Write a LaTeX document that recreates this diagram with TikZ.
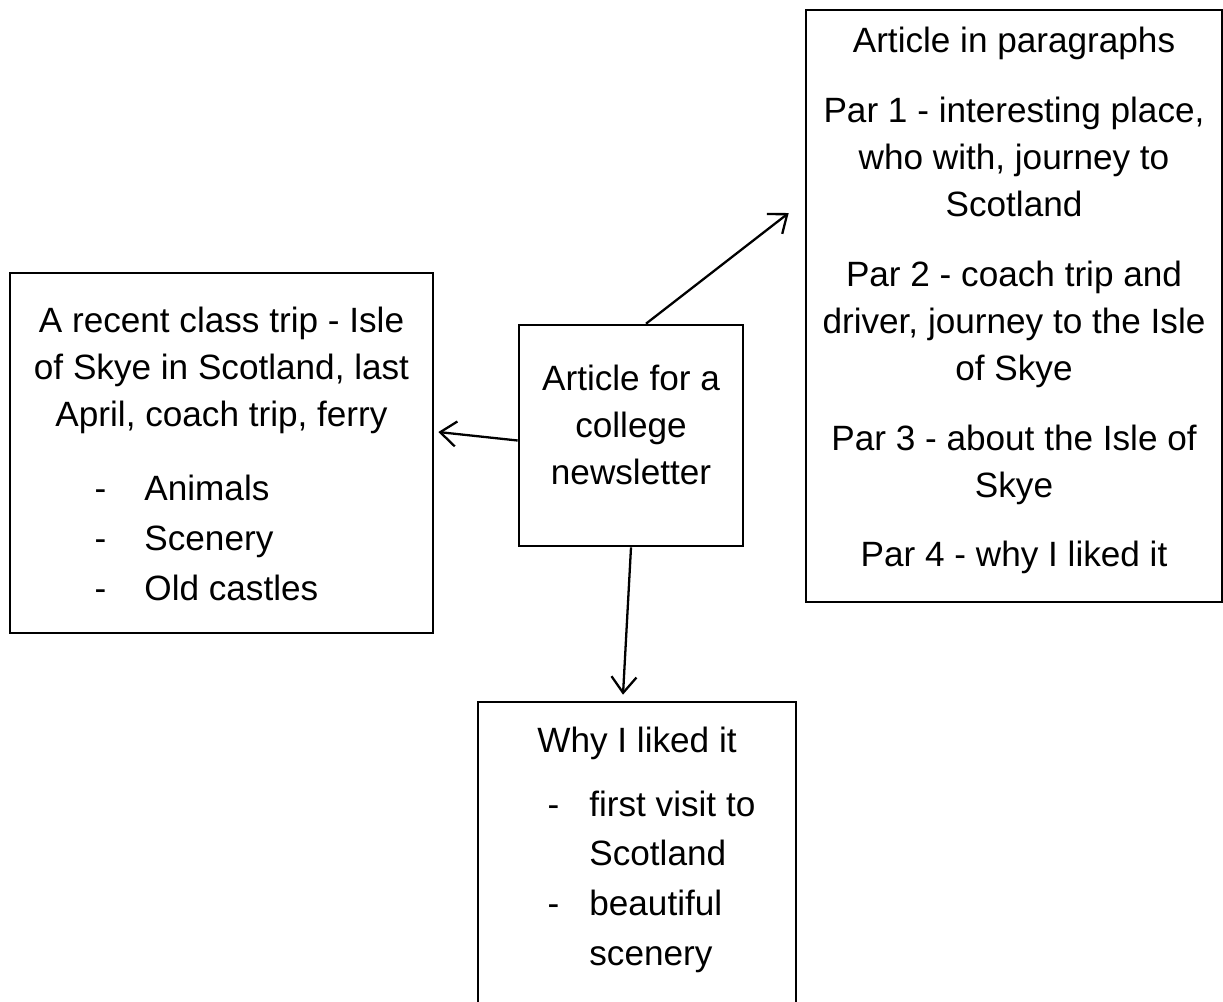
\documentclass[tikz,border=0pt]{standalone}
\usepackage{fontspec}
\setmainfont{Liberation Sans}
\usetikzlibrary{arrows.meta,positioning}

\begin{document}
\begin{tikzpicture}[
    box/.style={rectangle, draw, line width=1.5pt, align=center, inner sep=0pt,
      font=\fontsize{20}{26.7}\selectfont},
    arrow/.style={-{Straight Barb[length=3.2mm,width=5mm]}, line width=1.3pt}]

    \useasboundingbox (0,0) rectangle (24.46,-20.02);

    \node[box, minimum width=4.48cm, minimum height=4.42cm] (article) at (12.62,-8.71)
      {Article for a\\college\\newsletter\\[-5mm]};
    \node[box, minimum width=8.46cm, minimum height=7.2cm] (trip) at (4.43,-9.06)
      {A recent class trip - Isle\\of Skye in Scotland, last\\April, coach trip, ferry\\[6mm]
       \hspace*{-0.6cm}\renewcommand{\arraystretch}{1.064}%
       \begin{tabular}{@{}l@{\hspace{0.76cm}}l@{}}-&Animals\\-&Scenery\\-&Old castles\end{tabular}\\[-3.6mm]};
    \node[box, minimum width=8.32cm, minimum height=11.84cm] (plan) at (20.28,-6.12)
      {Article in paragraphs\\[4.6mm]
       Par 1 - interesting place,\\who with, journey to\\Scotland\\[4.6mm]
       Par 2 - coach trip and\\driver, journey to the Isle\\of Skye\\[4.6mm]
       Par 3 - about the Isle of\\Skye\\[4.6mm]
       Par 4 - why I liked it\\[-5.8mm]};
    \node[box, minimum width=6.36cm, minimum height=6.2cm] (liked) at (12.74,-17.14)
      {Why I liked it\\[4mm]
       \hspace*{0.58cm}\renewcommand{\arraystretch}{1.064}%
       \begin{tabular}{@{}l@{\hspace{0.6cm}}l@{}}-&first visit to\\&Scotland\\-&beautiful\\&scenery\end{tabular}\\[1mm]};

    \draw[arrow] ([xshift=0.3cm]article.north) -- ([shift={(-0.32,1.86)}]plan.west);
    \draw[arrow] ([yshift=-0.1cm]article.west) -- ([shift={(0.08,0.42)}]trip.east);
    \draw[arrow] (article.south) -- ([shift={(-0.28,0.12)}]liked.north);
\end{tikzpicture}
\end{document}
